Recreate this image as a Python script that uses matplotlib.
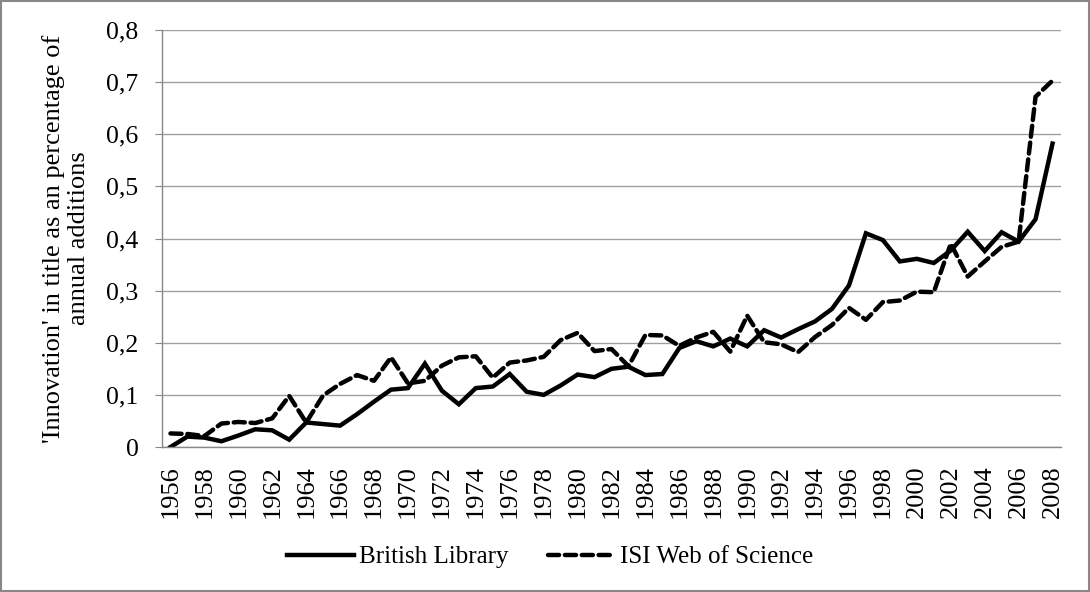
import matplotlib
matplotlib.use("Agg")
import matplotlib.pyplot as plt
from matplotlib.patches import Rectangle
import numpy as np

years = list(range(1956, 2009))
british_library = [
    0.000, 0.020, 0.018, 0.011, 0.022, 0.034, 0.032, 0.014, 0.047, 0.044,
    0.041, 0.063, 0.087, 0.110, 0.113, 0.160, 0.108, 0.082, 0.113, 0.116,
    0.140, 0.106, 0.100, 0.118, 0.139, 0.134, 0.150, 0.154, 0.138, 0.140,
    0.190, 0.203, 0.193, 0.208, 0.193, 0.224, 0.210, 0.226, 0.241, 0.265,
    0.310, 0.410, 0.397, 0.356, 0.361, 0.353, 0.377, 0.413, 0.376, 0.412,
    0.394, 0.437, 0.582,
]
isi_wos = [
    0.026, 0.025, 0.021, 0.045, 0.048, 0.046, 0.055, 0.098, 0.047, 0.099,
    0.121, 0.138, 0.127, 0.172, 0.122, 0.127, 0.156, 0.172, 0.174, 0.133,
    0.162, 0.166, 0.173, 0.205, 0.219, 0.184, 0.188, 0.155, 0.215, 0.214,
    0.194, 0.210, 0.221, 0.183, 0.252, 0.201, 0.197, 0.182, 0.211, 0.234,
    0.267, 0.244, 0.278, 0.281, 0.298, 0.297, 0.390, 0.327, 0.356, 0.384,
    0.394, 0.672, 0.703,
]
yticks = [0, 0.1, 0.2, 0.3, 0.4, 0.5, 0.6, 0.7, 0.8]
ytick_labels = ["0", "0,1", "0,2", "0,3", "0,4", "0,5", "0,6", "0,7", "0,8"]
xtick_years = years[::2]
ylabel = "'Innovation' in title as an percentage of\nannual additions"
series_names = ["British Library", "ISI Web of Science"]

plt.rcParams['font.family'] = ['Liberation Serif', 'DejaVu Serif']

W, H = 1090, 592
fig = plt.figure(figsize=(W / 100, H / 100), dpi=100)
ax = fig.add_axes([162 / W, 1 - 447 / H, (1061 - 162) / W, (447 - 30) / H])

x = np.arange(len(years))
ax.plot(x, british_library, color='black', lw=3.2, solid_joinstyle='miter',
        label=series_names[0])
ax.plot(x, isi_wos, color='black', lw=3.2, linestyle=(0, (2.5, 1.3)),
        dash_capstyle='round', label=series_names[1])

ax.set_xlim(-0.5, len(years) - 0.5)
ax.set_ylim(0, 0.8)
ax.set_yticks(yticks)
ax.set_yticklabels(ytick_labels, fontsize=18.5)
xt = [years.index(y) for y in xtick_years]
ax.set_xticks(xt)
ax.set_xticklabels([str(y) for y in xtick_years], rotation=90, fontsize=19)
ax.tick_params(axis='x', length=0, pad=13)
ax.tick_params(axis='y', length=5, color='#888888', pad=12, direction='out')

ax.grid(axis='y', color='#A0A0A0', lw=1)
ax.set_axisbelow(True)
for s in ['top', 'right']:
    ax.spines[s].set_visible(False)
for s in ['left', 'bottom']:
    ax.spines[s].set_color('#888888')
    ax.spines[s].set_linewidth(1)

ax.set_ylabel(ylabel, fontsize=19, linespacing=1.15)
ax.yaxis.set_label_coords(-72 / (1061 - 162), 0.5)

leg = fig.legend(loc='center', bbox_to_anchor=(550 / W, 1 - 557 / H), ncol=2,
                 frameon=False, fontsize=18, handlelength=2.7,
                 handletextpad=0.2, columnspacing=1.55)

fig.patches.append(Rectangle((1 / W, 1 / H), 1 - 2 / W, 1 - 2 / H,
                             transform=fig.transFigure, fill=False,
                             edgecolor='#888888', lw=1.5))

fig.savefig("out.png", dpi=100)
